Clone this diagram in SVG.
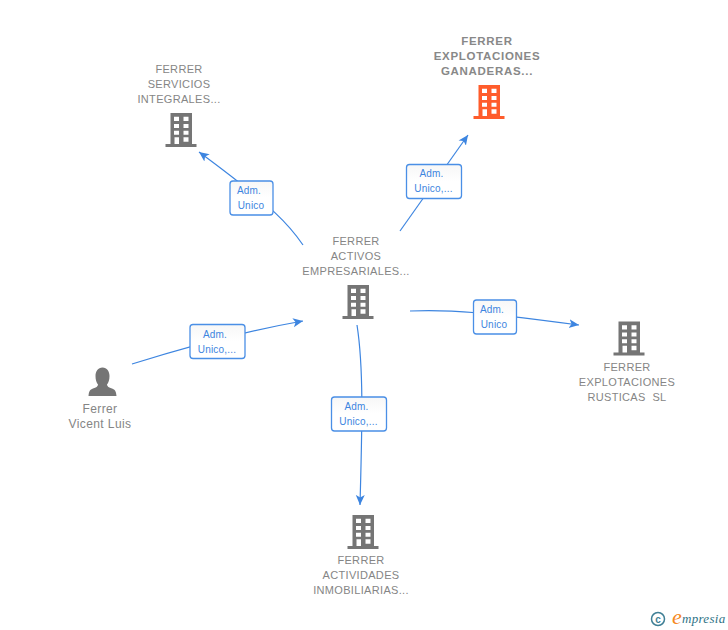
<svg xmlns="http://www.w3.org/2000/svg" width="728" height="630" viewBox="0 0 728 630">
<style>
.lbl{font-family:"Liberation Sans",Arial,sans-serif;font-size:11px;fill:#858585;text-anchor:middle;letter-spacing:.33px;white-space:pre}
.main{font-weight:bold;font-size:11.500px;letter-spacing:.7px;fill:#888}
.edge{fill:none;stroke:#3d85e0;stroke-width:1.200;marker-end:url(#arrow)}
.box{fill:url(#boxfill);stroke:#4a8fe6;stroke-width:1.300}
.et{font-family:"Liberation Sans",Arial,sans-serif;font-size:10px;fill:#3d85e0;text-anchor:middle;letter-spacing:.2px}
</style>
<defs>
<linearGradient id="boxfill" x1="0" y1="0" x2="0" y2="1"><stop offset="0" stop-color="#f7f7f7"/><stop offset=".5" stop-color="#fff"/></linearGradient>
<marker id="arrow" viewBox="0 0 10 10" refX="10" refY="5" markerWidth="10" markerHeight="10" markerUnits="userSpaceOnUse" orient="auto"><path d="M0 0.500L10 5L0 9.500L2.500 5Z" fill="#3d85e0"/></marker>
<g id="bld">
<path fill-rule="evenodd" d="M5 0H26.500V31H31V34H0V31H5ZM8.500 3.700V8H13.500V3.700ZM18 3.700V8H23V3.700ZM8.500 11V15H13.500V11ZM18 11V15H23V11ZM8.500 17.700V21.700H13.500V17.700ZM18 17.700V21.700H23V17.700ZM9 24.300V31H13.500V24.300ZM18 24.300V28.700H23V24.300Z"/>
</g>
</defs>
<g id="connectors">
<path class="edge" d="M303 245C290 226 275 208 199 152"/>
<path class="edge" d="M400 231L468 135"/>
<path class="edge" d="M410 311C450 309 490 313 579 325"/>
<path class="edge" d="M357 325C364 370 362 430 360 505"/>
<path class="edge" d="M132 364C180 349 240 332 303 321"/>
</g>
<g id="edge-labels">
<g><rect class="box" x="230" y="181" width="43" height="34" rx="3"/><text class="et" x="249" y="194">Adm.</text><text class="et" x="251" y="209">Unico</text></g>
<g><rect class="box" x="406.500" y="164.500" width="55" height="34" rx="3"/><text class="et" x="431.500" y="177">Adm.</text><text class="et" x="433.500" y="192">Unico,...</text></g>
<g><rect class="box" x="473.500" y="300" width="43" height="34" rx="3"/><text class="et" x="492" y="313">Adm.</text><text class="et" x="494" y="328">Unico</text></g>
<g><rect class="box" x="331.500" y="397" width="55" height="34" rx="3"/><text class="et" x="356.500" y="410">Adm.</text><text class="et" x="358.500" y="425">Unico,...</text></g>
<g><rect class="box" x="190" y="324.500" width="55" height="34" rx="3"/><text class="et" x="215" y="338">Adm.</text><text class="et" x="217" y="353">Unico,...</text></g>
</g>
<g id="node-servicios"><use href="#bld" x="165.500" y="113" fill="#757575"/><text class="lbl" x="179" y="73">FERRER</text><text class="lbl" x="179" y="88">SERVICIOS</text><text class="lbl" x="179" y="103">INTEGRALES...</text></g>
<g id="node-ganaderas"><use href="#bld" x="473.500" y="85" fill="#ff5c2b"/><text class="lbl main" x="487" y="45">FERRER</text><text class="lbl main" x="487" y="60">EXPLOTACIONES</text><text class="lbl main" x="487" y="75">GANADERAS...</text></g>
<g id="node-activos"><use href="#bld" x="342.500" y="285" fill="#757575"/><text class="lbl" x="356" y="245">FERRER</text><text class="lbl" x="356" y="260">ACTIVOS</text><text class="lbl" x="356" y="275">EMPRESARIALES...</text></g>
<g id="node-rusticas"><use href="#bld" x="613.500" y="321.500" fill="#757575"/><text class="lbl" x="627" y="371">FERRER</text><text class="lbl" x="627" y="386">EXPLOTACIONES</text><text class="lbl" x="627" y="401">RUSTICAS  SL</text></g>
<g id="node-actividades"><use href="#bld" x="347.500" y="515" fill="#757575"/><text class="lbl" x="361" y="564">FERRER</text><text class="lbl" x="361" y="579">ACTIVIDADES</text><text class="lbl" x="361" y="594">INMOBILIARIAS...</text></g>
<g id="node-ferrer"><path fill="#757575" d="M102.500 367.500C107 367.500 109.500 371.500 109.500 376C109.500 380 108.500 382.500 107 384.500C107 386.500 109 387.500 112 388.500C115 389.500 116 391 116.500 396H88.500C89 391 90 389.500 93 388.500C96 387.500 98 386.500 98 384.500C96.500 382.500 95.500 380 95.500 376C95.500 371.500 98 367.500 102.500 367.500Z"/><text class="lbl" x="100" y="413" style="font-size:12px;letter-spacing:.4px">Ferrer</text><text class="lbl" x="100" y="428" style="font-size:12px;letter-spacing:.4px">Vicent Luis</text></g>
<g id="logo"><circle cx="658" cy="619" r="6.500" fill="none" stroke="#3f7f95" stroke-width="1.500"/><text x="658" y="622.500" font-family="'Liberation Sans',sans-serif" font-size="10" font-weight="bold" fill="#3f7f95" text-anchor="middle">c</text><text x="672" y="624" font-family="'Liberation Serif',serif" font-style="italic" font-size="22" fill="#f58a1f">e</text><text x="682" y="623" font-family="'Liberation Serif',serif" font-style="italic" font-size="13" fill="#2f7386" letter-spacing=".3">mpresia</text></g>
</svg>
